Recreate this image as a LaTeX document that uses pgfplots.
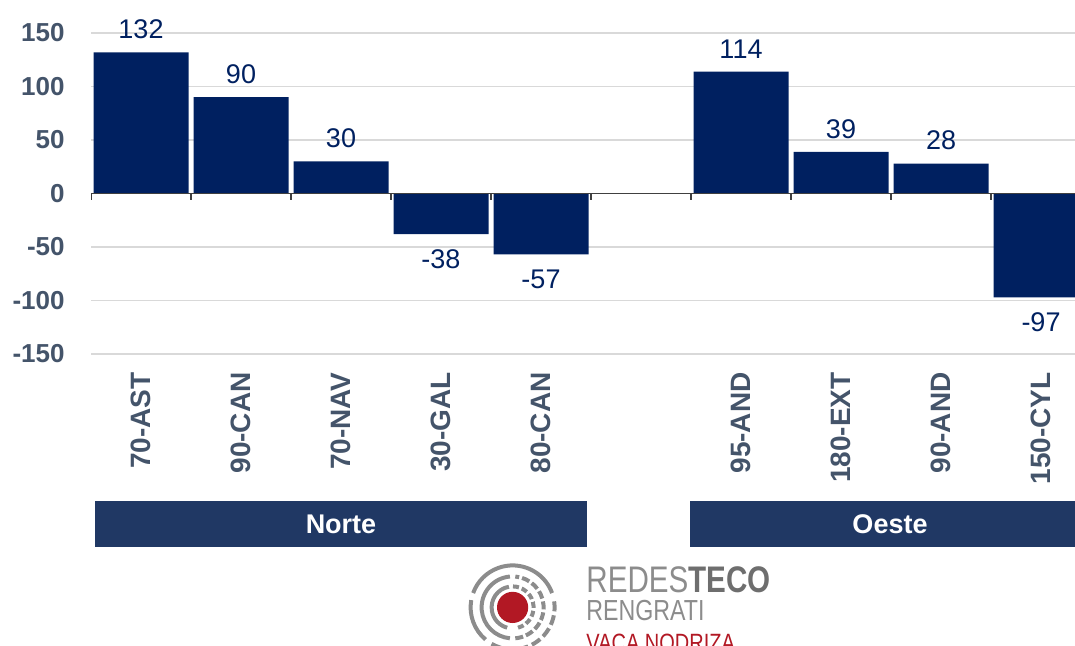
\documentclass[border=0pt]{standalone}
\usepackage{fontspec}
\setmainfont{Liberation Sans}
\newfontfamily\logofont[FakeStretch=0.8]{Liberation Sans}
\usepackage{pgfplots}
\pgfplotsset{compat=1.18}
\usepackage{pgfplotstable}
\definecolor{navy}{RGB}{0,32,96}
\definecolor{boxblue}{RGB}{32,56,100}
\definecolor{ticklab}{RGB}{68,84,106}
\definecolor{gridc}{RGB}{217,217,217}
\definecolor{logogray}{RGB}{140,140,140}
\definecolor{logodark}{RGB}{110,110,110}
\definecolor{logored}{RGB}{178,24,36}
\pgfplotstableread{
x y lab
0 132 132
1 90 90
2 30 30
6 114 114
7 39 39
8 28 28
}\posdata
\pgfplotstableread{
x y lab
3 -38 -38
4 -57 -57
9 -97 -97
}\negdata
\begin{document}
\begin{tikzpicture}
\useasboundingbox (0,0) rectangle (537.5pt,322.5pt);
\begin{axis}[
  at={(45.5pt,145.5pt)}, anchor=south west,
  scale only axis, width=492pt, height=160.5pt,
  xmin=-0.5, xmax=9.34, ymin=-150, ymax=150,
  ybar, bar width=47.5pt,
  axis line style={draw=none},
  major tick length=0pt,
  ytick={-150,-100,-50,0,50,100,150},
  yticklabels={-150,-100,-50,0,50,100,150},
  ymajorgrids, grid style={gridc, line width=0.75pt},
  xtick={0,1,2,3,4,6,7,8,9},
  xticklabels={70-AST,90-CAN,70-NAV,30-GAL,80-CAN,95-AND,180-EXT,90-AND,150-CYL},
  xticklabel style={rotate=90, anchor=east, font=\fontsize{14}{16}\selectfont\bfseries, text=ticklab, inner sep=0pt},
  xticklabel shift=9pt,
  yticklabel style={anchor=east, font=\fontsize{13}{15}\selectfont\bfseries, text=ticklab, inner sep=0pt},
  yticklabel shift=13pt,
  point meta=explicit symbolic,
]
\addplot[fill=navy, draw=none, bar shift=0pt, nodes near coords,
  nodes near coords style={font=\fontsize{13.5}{15}\selectfont, text=navy, inner xsep=0pt, inner ysep=0pt, anchor=south, yshift=6.5pt}]
  table[x=x, y=y, meta=lab] {\posdata};
\addplot[fill=navy, draw=none, bar shift=0pt, nodes near coords,
  nodes near coords style={font=\fontsize{13.5}{15}\selectfont, text=navy, inner xsep=0pt, inner ysep=0pt, anchor=north, yshift=-7.5pt}]
  table[x=x, y=y, meta=lab] {\negdata};
\draw[line width=0.75pt, black!75] (axis cs:-0.5,0) -- (axis cs:9.34,0);
\pgfplotsinvokeforeach{-0.5,0.5,1.5,2.5,3.5,4.5,5.5,6.5,7.5,8.5}{
  \draw[line width=0.75pt, black!75] (axis cs:#1,0) -- ([yshift=-3pt]axis cs:#1,0);
}
\end{axis}
% group boxes
\fill[boxblue] (47.5pt,49pt) rectangle (293.5pt,72pt);
\node[text=white, font=\fontsize{13.5}{15}\selectfont\bfseries] at (170.5pt,60.5pt) {Norte};
\fill[boxblue] (345pt,49pt) rectangle (537.5pt,72pt);
\node[text=white, font=\fontsize{13.5}{15}\selectfont\bfseries] at (445pt,60.5pt) {Oeste};
% logo
\begin{scope}[shift={(256.3pt,18.8pt)}]
  \fill[logored] (0,0) circle (7.8pt);
  \draw[logogray, line width=2pt] (100:10.5pt) arc (100:255:10.5pt);
  \draw[logogray, line width=2pt, dash pattern=on 3pt off 1.5pt] (-75:10.5pt) arc (-75:90:10.5pt);
  \draw[logogray, line width=2pt] (95:15.5pt) arc (95:265:15.5pt);
  \draw[logogray, line width=2pt, dash pattern=on 4pt off 1.5pt] (-85:15.5pt) arc (-85:85:15.5pt);
  \draw[logogray, line width=2pt] (20:21pt) arc (20:160:21pt);
  \draw[logogray, line width=2pt] (170:21pt) arc (170:230:21pt);
  \draw[logogray, line width=2pt, dash pattern=on 5pt off 2pt] (-120:21pt) arc (-120:10:21pt);
\end{scope}
\node[anchor=base west, inner sep=0pt, text height=13pt, text depth=0pt, text=logogray, font=\logofont\fontsize{18.5}{20}\selectfont] at (293pt,26.5pt) {REDES\textcolor{logodark}{\textbf{TECO}}};
\node[anchor=base west, inner sep=0pt, text height=10pt, text depth=0pt, text=logogray, font=\logofont\fontsize{14.5}{16}\selectfont] at (293pt,12.5pt) {RENGRATI};
\node[anchor=base west, inner sep=0pt, text height=9pt, text depth=0pt, text=logored, font=\logofont\fontsize{12.5}{14}\selectfont] at (293pt,-3pt) {VACA NODRIZA};
\end{tikzpicture}
\end{document}
